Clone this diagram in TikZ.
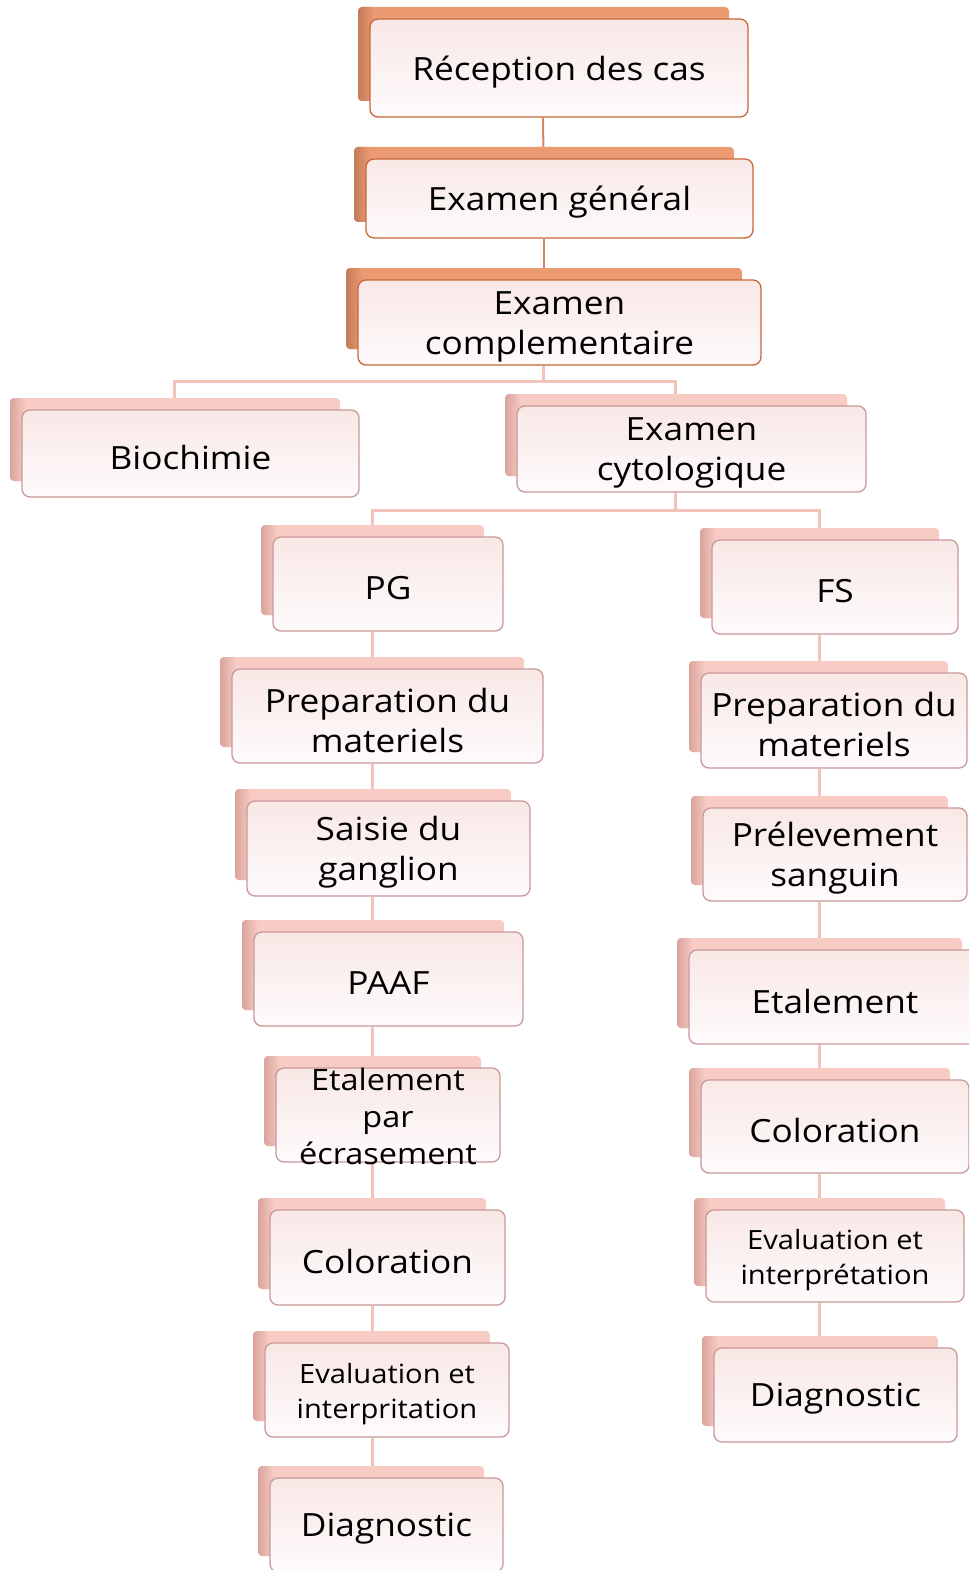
\documentclass[tikz,border=0pt]{standalone}
\usepackage{fontspec}
\setmainfont[FakeStretch=1.1]{Open Sans}
\usetikzlibrary{backgrounds,calc}
\definecolor{oback}{HTML}{EC9A72}
\definecolor{odark}{HTML}{C27A58}
\definecolor{oedge}{HTML}{C8653A}
\definecolor{pback}{HTML}{F8CCC4}
\definecolor{pdark}{HTML}{D9A39C}
\definecolor{pedge}{HTML}{C9999A}
\definecolor{ftop}{HTML}{F8E8E6}
\definecolor{fbot}{HTML}{FEFAFC}
\definecolor{oline}{HTML}{D88462}
\definecolor{pline}{HTML}{F3C3BB}
\tikzset{
  frontbox/.style={draw=#1edge, line width=1.3pt, rounded corners=8pt,
    top color=ftop, bottom color=fbot, inner sep=0pt},
  boxtext/.style={align=center, text=black, inner sep=0pt, yshift=-4pt},
  lbl/.style={font=\fontsize{32}{40}\selectfont},
  lblsmall/.style={font=\fontsize{26.5}{35}\selectfont},
  lbletal/.style={font=\fontsize{29.5}{37}\selectfont, yshift=3pt},
  olink/.style={draw=oline, line width=2pt},
  plink/.style={draw=pline, line width=3pt},
}
% #1 name, #2 x1, #3 y1, #4 x2, #5 y2, #6 kind (o/p), #7 font style, #8 text
\newcommand\stepbx[8]{%
  \fill[#6back, rounded corners=4pt] (#2-12,#3-12) rectangle (#4-19,#5-16);
  \shade[left color=#6dark, right color=#6back, rounded corners=4pt]
    (#2-12,#3-12) rectangle (#2+4,#5-16);
  \node[frontbox=#6, minimum width={#4pt-#2pt}, minimum height={#5pt-#3pt}]
    (#1) at ({(#2+#4)/2},{(#3+#5)/2}) {};
  \node[boxtext, #7] (#1t) at (#1.center) {#8};
}
\begin{document}
\begin{tikzpicture}[x=1pt,y=-1pt]
\useasboundingbox (0,0) rectangle (969,1570);
\clip (0,0) rectangle (969,1570);
\coordinate (t1) at (372,0);
\coordinate (t2) at (819,0);
\stepbx{rec}{370}{19}{748}{117}{o}{lbl}{Réception des cas}
\stepbx{gen}{366}{159}{753}{238}{o}{lbl}{Examen général}
\stepbx{comp}{358}{280}{761}{365}{o}{lbl}{Examen\\complementaire}
\stepbx{bio}{22}{410}{359}{497}{p}{lbl}{Biochimie}
\stepbx{cyto}{517}{406}{866}{492}{p}{lbl}{Examen\\cytologique}
\stepbx{pg}{273}{537}{503}{631}{p}{lbl}{PG}
\stepbx{fs}{712}{540}{958}{634}{p}{lbl}{FS}
\stepbx{prepL}{232}{669}{543}{763}{p}{lbl}{Preparation du\\materiels}
\stepbx{sai}{247}{801}{530}{896}{p}{lbl}{Saisie du\\ganglion}
\stepbx{paaf}{254}{932}{523}{1026}{p}{lbl}{PAAF}
\stepbx{etaL}{276}{1068}{500}{1162}{p}{lbletal}{Etalement\\par\\écrasement}
\stepbx{colL}{270}{1210}{505}{1305}{p}{lbl}{Coloration}
\stepbx{evaL}{265}{1343}{509}{1437}{p}{lblsmall}{Evaluation et\\interpritation}
\stepbx{diaL}{270}{1478}{503}{1572}{p}{lbl}{Diagnostic}
\stepbx{prepR}{701}{673}{967}{768}{p}{lbl}{Preparation du\\materiels}
\stepbx{prel}{703}{808}{967}{901}{p}{lbl}{Prélevement\\sanguin}
\stepbx{etaR}{689}{950}{981}{1044}{p}{lbl}{Etalement}
\stepbx{colR}{701}{1080}{969}{1173}{p}{lbl}{Coloration}
\stepbx{evaR}{706}{1210}{964}{1302}{p}{lblsmall}{Evaluation et\\interprétation}
\stepbx{diaR}{714}{1348}{957}{1442}{p}{lbl}{Diagnostic}
\begin{pgfonlayer}{background}
\fill[white] (0,0) rectangle (969,1570);
\draw[olink] ($(rec.south)+(-16,0)$) -- ($(gen.north)+(-16,0)$);
\draw[olink] ($(gen.south)+(-16,0)$) -- ($(comp.north)+(-16,0)$);
\draw[plink] ($(comp.south)+(-16,0)$) -- ++(0,16) -| ($(bio.north)+(-16,0)$);
\draw[plink] ($(comp.south)+(-16,0)$) -- ++(0,16) -| ($(cyto.north)+(-16,0)$);
\draw[plink] ($(cyto.south)+(-16,0)$) -- ++(0,18) -| (pg.north -| t1);
\draw[plink] ($(cyto.south)+(-16,0)$) -- ++(0,18) -| (fs.north -| t2);
\draw[plink] (pg.south -| t1) -- (prepL.north -| t1);
\draw[plink] (prepL.south -| t1) -- (sai.north -| t1);
\draw[plink] (sai.south -| t1) -- (paaf.north -| t1);
\draw[plink] (paaf.south -| t1) -- (etaL.north -| t1);
\draw[plink] (etaL.south -| t1) -- (colL.north -| t1);
\draw[plink] (colL.south -| t1) -- (evaL.north -| t1);
\draw[plink] (evaL.south -| t1) -- (diaL.north -| t1);
\draw[plink] (fs.south -| t2) -- (prepR.north -| t2);
\draw[plink] (prepR.south -| t2) -- (prel.north -| t2);
\draw[plink] (prel.south -| t2) -- (etaR.north -| t2);
\draw[plink] (etaR.south -| t2) -- (colR.north -| t2);
\draw[plink] (colR.south -| t2) -- (evaR.north -| t2);
\draw[plink] (evaR.south -| t2) -- (diaR.north -| t2);
\end{pgfonlayer}
\end{tikzpicture}
\end{document}
